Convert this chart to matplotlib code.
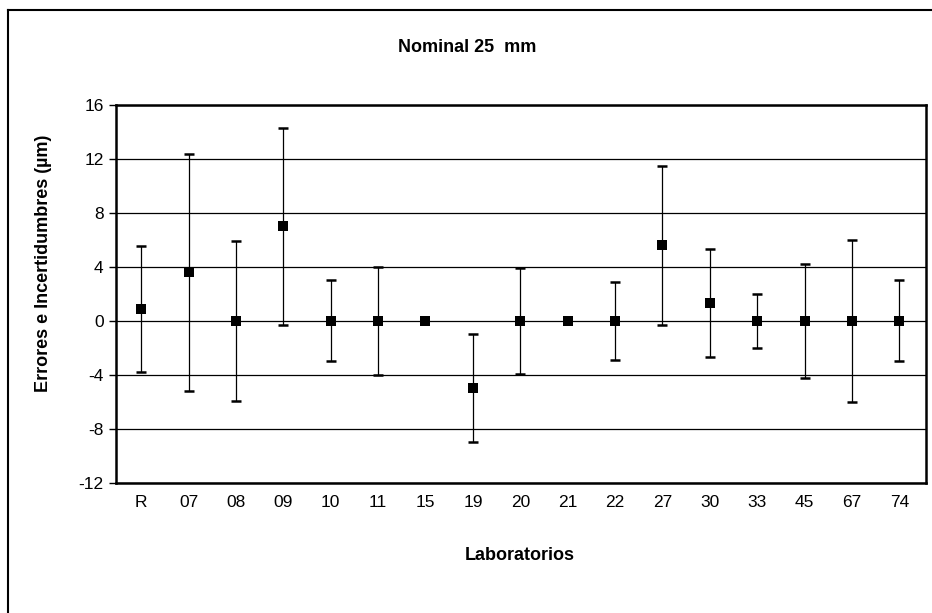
import numpy as np
import matplotlib
matplotlib.use('Agg')
import matplotlib.pyplot as plt
from matplotlib.lines import Line2D

plt.rcParams['font.family'] = ['Liberation Sans', 'DejaVu Sans']

# Laboratorios y sus errores / incertidumbres (um)
labs = ['R', '07', '08', '09', '10', '11', '15', '19', '20', '21', '22',
        '27', '30', '33', '45', '67', '74']
errores = [0.9, 3.6, 0.0, 7.0, 0.0, 0.0, 0.0, -5.0, 0.0, 0.0, 0.0,
           5.6, 1.3, 0.0, 0.0, 0.0, 0.0]
incert = [4.65, 8.8, 5.9, 7.3, 3.0, 4.0, 0.0, 4.0, 3.9, 0.0, 2.9,
          5.9, 4.0, 2.0, 4.2, 6.0, 3.0]
yticks = [-12, -8, -4, 0, 4, 8, 12, 16]

fig = plt.figure(figsize=(9.32, 6.13), dpi=100)
ax = fig.add_axes([0.1245, 0.2121, 0.8695, 0.6166])

x = np.arange(len(labs))
for xi, e, u in zip(x, errores, incert):
    if u > 0:
        ax.errorbar(xi, e, yerr=u, fmt='none', ecolor='black',
                    elinewidth=0.9, capsize=3.6, capthick=1.8, zorder=3)
ax.plot(x, errores, linestyle='none', marker='s', markersize=7.2,
        color='black', mew=0, zorder=4)

ax.set_xlim(-0.53, 16.57)
ax.set_ylim(-12, 16)
ax.set_yticks(yticks)
ax.set_yticklabels([str(t) for t in yticks], fontsize=12.5)
ax.set_xticks(x)
ax.set_xticklabels(labs, fontsize=12.5)
ax.tick_params(axis='x', length=0, pad=9)
ax.tick_params(axis='y', length=5, width=1, pad=4, direction='out')
ax.yaxis.grid(True, color='black', linewidth=0.9)
ax.set_axisbelow(True)
for s in ax.spines.values():
    s.set_linewidth(1.8)

fig.text(0.501, 1 - 47 / 613, 'Nominal 25  mm', ha='center', va='center',
         fontsize=13, fontweight='bold')
fig.text(0.558, 1 - 555 / 613, 'Laboratorios', ha='center', va='center',
         fontsize=13, fontweight='bold')
fig.text(44 / 932, 1 - 263 / 613, 'Errores e Incertidumbres (\u00b5m)',
         ha='center', va='center', rotation=90, fontsize=13, fontweight='bold')

# marco exterior (solo se ven el borde izquierdo y superior)
fig.add_artist(Line2D([8 / 932, 8 / 932], [0, 1 - 10 / 613], color='black',
                      linewidth=1.5, transform=fig.transFigure))
fig.add_artist(Line2D([8 / 932, 1], [1 - 10 / 613, 1 - 10 / 613], color='black',
                      linewidth=1.5, transform=fig.transFigure))

fig.savefig('out.png', dpi=100)
